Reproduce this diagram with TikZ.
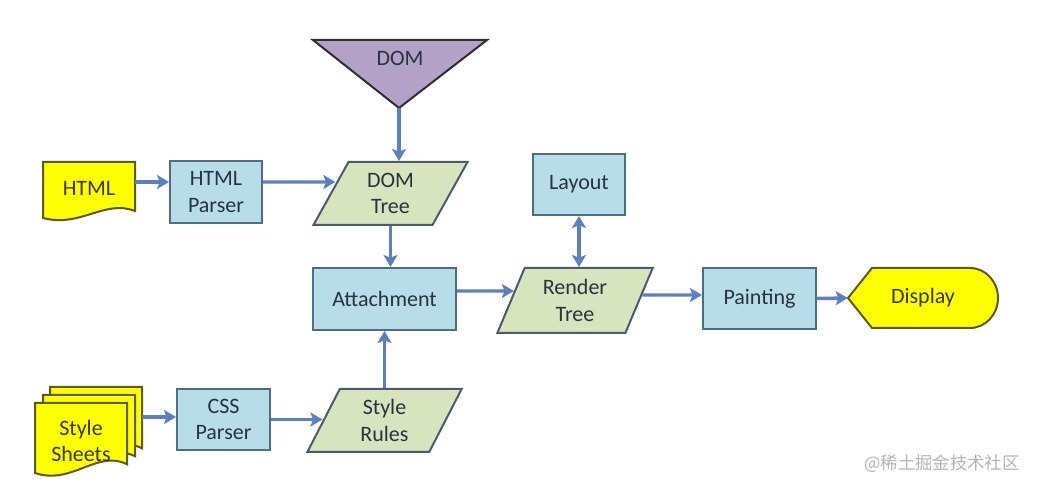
\documentclass[tikz,border=0pt]{standalone}
\usepackage{fontspec}
\setmainfont{Carlito}
\newfontfamily\cjkfont{Noto Sans CJK SC}
\usetikzlibrary{arrows.meta,shapes.geometric,calc}
\definecolor{boxfill}{HTML}{B7DDE8}
\definecolor{boxline}{HTML}{4C6E84}
\definecolor{parfill}{HTML}{D7E4BD}
\definecolor{parline}{HTML}{4A5C6C}
\definecolor{yelfill}{HTML}{FFFF00}
\definecolor{yelline}{HTML}{5A5A22}
\definecolor{domfill}{HTML}{B3A2C7}
\definecolor{domline}{HTML}{2E2E2E}
\definecolor{arrcol}{HTML}{5B7FC1}
\definecolor{textcol}{HTML}{26343E}
\definecolor{marktext}{HTML}{B5B5B5}
\newcommand\flowdoc[4]{%
  \begin{scope}[shift={(#1,#2)}, xscale=#3/92, yscale=#4/56]
    \draw[yeldoc] (0,0) -- (92,0) -- (92,49) .. controls (62,37) and (37,66) .. (0,56) -- cycle;
  \end{scope}}
\begin{document}
\begin{tikzpicture}[x=0.75pt,y=-0.75pt,
  lbl/.style={font=\fontsize{16.5}{20}\selectfont, align=center, text=textcol, inner sep=0pt},
  procbox/.style={lbl, draw=boxline, fill=boxfill, line width=1.5pt},
  para/.style={lbl, trapezium, trapezium stretches=true, draw=parline, fill=parfill, line width=1.5pt},
  yeldoc/.style={draw=yelline, fill=yelfill, line width=1.5pt},
  arr/.style={draw=arrcol, line width=2.6pt, -{Stealth[length=9pt,width=10.5pt,inset=2pt]}},
  arrboth/.style={draw=arrcol, line width=2.6pt, {Stealth[length=9pt,width=10.5pt,inset=2pt]}-{Stealth[length=9pt,width=10.5pt,inset=2pt]}}]
\useasboundingbox (0,0) rectangle (1039,491);
\fill[white] (0,0) rectangle (1039,491);

% DOM triangle
\draw[fill=domfill, draw=domline, line width=1.5pt, line join=miter] (313,40) -- (487,40) -- (399,108) -- cycle;
\node[lbl, text=textcol!80!domline] (dom) at (400,58) {DOM};
\coordinate (domtip) at (399,108);

% HTML document
\flowdoc{43}{162}{92}{56}
\node[lbl, minimum width=69pt, minimum height=42pt, text=yelline!60!black] (html) at (89,188) {HTML};

% Style sheets stack
\flowdoc{50}{387}{92}{70}
\flowdoc{43}{395}{92}{70}
\flowdoc{35}{403}{92}{70}
\node[minimum width=80.25pt, minimum height=66pt, inner sep=0pt] (ss) at (88.5,431) {};
\node[lbl, text=yelline!60!black] (sstext) at (81,441) {Style\\Sheets};

% boxes
\node[procbox, minimum width=69pt, minimum height=46.5pt] (hp) at (216,192) {HTML\\Parser};
\node[procbox, minimum width=69pt, minimum height=45.75pt] (layout) at (579,184.5) {Layout};
\node[procbox, minimum width=107.25pt, minimum height=46.5pt] (att) at (384.5,299) {Attachment};
\node[procbox, minimum width=84.75pt, minimum height=45.75pt] (paint) at (759.5,298.5) {Painting};
\node[procbox, minimum width=69.75pt, minimum height=45.75pt] (css) at (223.5,419.5) {CSS\\Parser};

% parallelograms
\node[para, trapezium left angle=64.5, trapezium right angle=115.5, minimum width=116.25pt, minimum height=47.25pt] (dt) at (390.5,193.5) {DOM\\Tree};
\node[para, trapezium left angle=67.5, trapezium right angle=112.5, minimum width=117pt, minimum height=48.75pt] (rt) at (575,300.5) {Render\\Tree};
\node[para, trapezium left angle=67.5, trapezium right angle=112.5, minimum width=116.25pt, minimum height=47.25pt] (sr) at (384.5,420.5) {Style\\Rules};

% Display
\draw[yeldoc] (848,298) -- (872,268) -- (970,268) arc[start angle=-90, end angle=90, x radius=28, y radius=30] -- (872,328) -- cycle;
\node[lbl, minimum width=112.5pt, minimum height=45pt, text=yelline!60!black] (disp) at (923,298) {Display};

% connectors
\draw[arr] ([yshift=4.5pt]html.east) -- ([yshift=7.5pt]hp.west);
\draw[arr] ([yshift=7.5pt]hp.east) -- ([shift={(5.5,-11.5)}]dt.west);
\draw[arr] (domtip) -- (domtip |- dt.north);
\draw[arr] (dt.south) -- (dt.south |- att.north);
\draw[arr] (sr.north) -- (sr.north |- att.south);
\draw[arr] ([yshift=10.5pt]ss.east) -- ([yshift=1.875pt]css.west);
\draw[arr] (css.east) -- (css.east -| sr.west);
\draw[arr] ([yshift=6pt]att.east) -- ([shift={(4,-9.5)}]rt.west);
\draw[arrboth] (layout.south) -- (layout.south |- rt.north);
\draw[arr] ([shift={(2.3,-5.5)}]rt.east) -- ([yshift=2.625pt]paint.west);
\draw[arr] (paint.east) -- (disp.west);

% watermark
\node[font=\cjkfont\fontsize{13}{15}\selectfont, text=marktext, inner sep=0pt] (mark) at (942,464) {@稀土掘金技术社区};
\end{tikzpicture}
\end{document}
